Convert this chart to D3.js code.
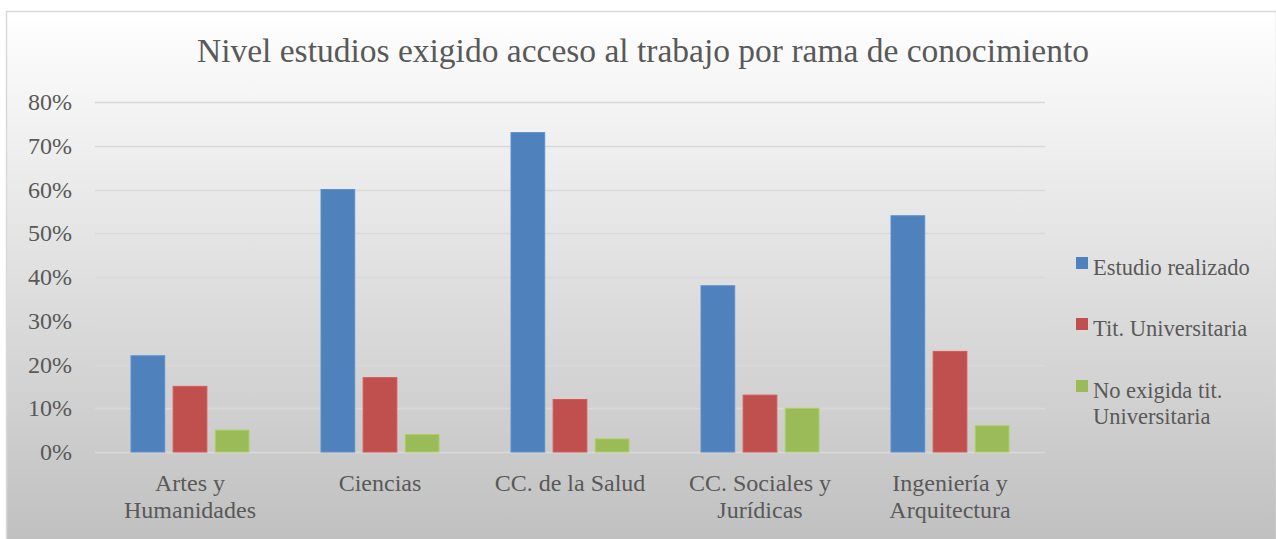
<!DOCTYPE html>
<html>
  <head>
    <meta charset="utf-8">
    <script src="https://d3js.org/d3.v7.min.js"></script>
    <style>
      body { margin: 0; background: #fff; }
      text { font-family: "Liberation Serif", "DejaVu Serif", serif; fill: #595959; }
    </style>
  </head>
  <body>
    <script>

      // data
      var categories = [["Artes y", "Humanidades"], ["Ciencias"], ["CC. de la Salud"],
                        ["CC. Sociales y", "Jurídicas"], ["Ingeniería y", "Arquitectura"]];
      var seriesNames = [["Estudio realizado"], ["Tit. Universitaria"], ["No exigida tit.", "Universitaria"]];
      var estudio = [22, 60, 73, 38, 54];
      var titUniv = [15, 17, 12, 13, 23];
      var noExigida = [5, 4, 3, 10, 6];
      var yTicks = [0, 10, 20, 30, 40, 50, 60, 70, 80];
      var colors = ["#4F81BD", "#C0504D", "#9BBB59"];

      var values = [estudio, titUniv, noExigida];

      var W = 1276, H = 539;
      var plot = {left: 95, right: 1045, top: 102, bottom: 452};

      var svg = d3.select("body")
        .append("svg")
        .attr("width", W)
        .attr("height", H);

      // background gradient
      var grad = svg.append("defs").append("linearGradient")
        .attr("id", "bg")
        .attr("x1", 0).attr("y1", 0).attr("x2", 0).attr("y2", 1);
      grad.append("stop").attr("offset", "0%").attr("stop-color", "#ffffff");
      grad.append("stop").attr("offset", "100%").attr("stop-color", "#bfbfbf");

      svg.append("rect")
        .attr("x", 6.5).attr("y", 11.5)
        .attr("width", W - 6).attr("height", H)
        .attr("fill", "url(#bg)")
        .attr("stroke", "#d9d9d9")
        .attr("stroke-width", 1.5);

      var idx = d3.range(categories.length);

      var x0 = d3.scaleBand()
        .domain(idx)
        .range([plot.left, plot.right])
        .paddingInner(0.379)
        .paddingOuter(0.1895);

      var x1 = d3.scaleBand()
        .domain(d3.range(values.length))
        .range([0, x0.bandwidth()])
        .paddingInner(0.2);

      var y = d3.scaleLinear()
        .domain([0, 80])
        .range([plot.bottom, plot.top]);

      // gridlines
      svg.append("g")
        .selectAll("line")
        .data(yTicks)
        .enter()
        .append("line")
        .attr("x1", plot.left)
        .attr("x2", plot.right)
        .attr("y1", function(d) { return Math.round(y(d)) + 0.5; })
        .attr("y2", function(d) { return Math.round(y(d)) + 0.5; })
        .attr("stroke", "#d9d9d9")
        .attr("stroke-width", 1.5);

      // y axis labels
      svg.append("g")
        .selectAll("text")
        .data(yTicks)
        .enter()
        .append("text")
        .attr("x", 72)
        .attr("y", function(d) { return y(d) + 8; })
        .attr("text-anchor", "end")
        .style("font-size", "24px")
        .text(function(d) { return d + "%"; });

      // bars
      var groups = svg.append("g")
        .selectAll("g")
        .data(idx)
        .enter()
        .append("g")
        .attr("transform", function(i) { return "translate(" + x0(i) + ",0)"; });

      groups.selectAll("rect")
        .data(function(i) { return values.map(function(s, k) { return {k: k, v: s[i]}; }); })
        .enter()
        .append("rect")
        .attr("x", function(d) { return x1(d.k); })
        .attr("y", function(d) { return y(d.v); })
        .attr("width", x1.bandwidth())
        .attr("height", function(d) { return y(0) - y(d.v); })
        .attr("fill", function(d) { return colors[d.k]; })
        .attr("stroke", function(d) { return d3.color(colors[d.k]).brighter(0.3); })
        .attr("stroke-width", 1);

      // x labels
      var xl = svg.append("g")
        .selectAll("text")
        .data(idx)
        .enter()
        .append("text")
        .attr("x", function(i) { return x0(i) + x0.bandwidth() / 2; })
        .attr("y", 491)
        .attr("text-anchor", "middle")
        .style("font-size", "24px");
      xl.selectAll("tspan")
        .data(function(i) { return categories[i]; })
        .enter()
        .append("tspan")
        .attr("x", function() { return this.parentNode.getAttribute("x"); })
        .attr("dy", function(d, j) { return j === 0 ? 0 : 27; })
        .text(function(d) { return d; });

      // title
      svg.append("text")
        .attr("x", 643)
        .attr("y", 62)
        .attr("text-anchor", "middle")
        .style("font-size", "33.5px")
        .text("Nivel estudios exigido acceso al trabajo por rama de conocimiento");

      // legend
      var legendY = [268, 329, 391];
      var legend = svg.append("g")
        .selectAll("g")
        .data(seriesNames)
        .enter()
        .append("g")
        .attr("transform", function(d, i) { return "translate(1076," + legendY[i] + ")"; });

      legend.append("rect")
        .attr("x", 0).attr("y", -11)
        .attr("width", 12).attr("height", 12)
        .attr("fill", function(d, i) { return colors[i]; });

      legend.append("text")
        .attr("x", 17)
        .attr("y", 7)
        .style("font-size", "22.5px")
        .selectAll("tspan")
        .data(function(d) { return d; })
        .enter()
        .append("tspan")
        .attr("x", 17)
        .attr("dy", function(d, j) { return j === 0 ? 0 : 26; })
        .text(function(d) { return d; });

    </script>
  </body>
</html>
